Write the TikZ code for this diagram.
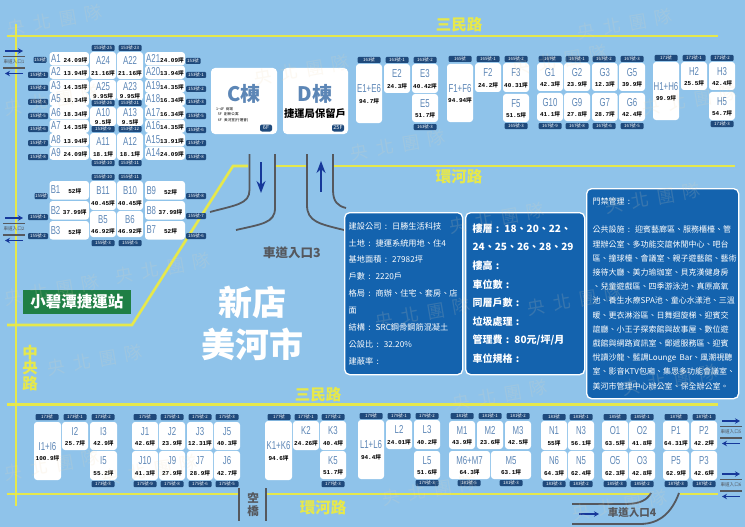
\documentclass[tikz,border=0pt]{standalone}
\usepackage{fontspec}
\setmainfont{Noto Sans CJK TC}
\newfontfamily\labfont[FakeStretch=0.68]{Liberation Sans}
\newfontfamily\numfont{Liberation Mono}
\usetikzlibrary{arrows.meta}

\definecolor{skybg}{HTML}{8FC3EA}
\definecolor{roadyl}{HTML}{E6E84C}
\definecolor{ramp}{HTML}{55585E}
\definecolor{navytag}{HTML}{1F4A7C}
\definecolor{lablue}{HTML}{5C86B6}
\definecolor{infoblue}{HTML}{1463AE}
\definecolor{arrowblue}{HTML}{16389A}
\definecolor{stagreen}{HTML}{1F7F45}
\definecolor{wmark}{HTML}{F0D8B0}

\newcommand{\areatxt}[1]{{\fontsize{6}{6}\numfont\bfseries #1}{\fontsize{5.6}{6}\selectfont\bfseries 坪}}
\newcommand{\labtxt}[1]{{\labfont\fontsize{11.5}{11.5}\selectfont\textcolor{lablue}{#1}}}

\tikzset{
	unitbox/.style={fill=white,rounded corners=3pt,inner sep=0pt,outer sep=0pt,align=center,font=\fontsize{6}{11}\selectfont},
	tagbox/.style={fill=navytag,rounded corners=1pt,text=white,inner sep=0pt,minimum width=23,minimum height=6,font=\fontsize{4.4}{5}\selectfont},
	sidetag/.style={tagbox,minimum width=20},
	road/.style={draw=roadyl,line width=2.6pt},
	rampline/.style={draw=ramp,line width=1.8pt},
	roadname/.style={text=roadyl,font=\fontsize{15.5}{15.5}\selectfont\bfseries,inner sep=0pt},
	rampname/.style={text=ramp,font=\fontsize{12.5}{13}\selectfont\bfseries,inner sep=0pt},
	smallramp/.style={text=ramp,font=\fontsize{4.6}{5}\selectfont,inner sep=0pt},
	flow/.style={draw=arrowblue,line width=1.2pt,-{Stealth[length=5pt,width=5.5pt]}},
	bigflow/.style={draw=arrowblue,line width=1.5pt,-{Stealth[length=12pt,width=9pt]}},
	gate/.style={draw=ramp,line width=1.2pt},
	infobox/.style={fill=infoblue,draw=white,line width=1.3pt,rounded corners=5pt,text=white,anchor=north west,align=left,inner sep=0pt},
	watermark/.style={text=wmark,opacity=.16,rotate=10,font=\fontsize{18}{18}\selectfont,inner sep=0pt},
}

\begin{document}
\begin{tikzpicture}[x=1pt,y=-1pt]
	\useasboundingbox (0,0) rectangle (745,527);
	\fill[skybg] (0,0) rectangle (745,527);

	%roads
	\draw[road] (7,36)--(718,36);
	\draw[road] (16,24)--(16,506);
	\draw[road] (7,325)--(132,325)--(233,166)--(248,166);
	\draw[road] (275,166)--(307,166);
	\draw[road] (333,166)--(735,166);
	\draw[road] (7,404.5)--(718,404.5);
	\draw[road] (7,494)--(238,494);
	\draw[road] (267,494)--(650,494);
	\draw[road] (680,494)--(718,494);

	%ramp 3
	\draw[rampline] (249.5,154)--(249.5,190) .. controls (249.5,204) and (236,205) .. (210,212);
	\draw[rampline] (275,154)--(275,208) .. controls (275,223) and (262,224) .. (236,230);
	\draw[rampline] (307,154)--(307,205) .. controls (307,222) and (320,224) .. (344,230);
	\draw[rampline] (333,154)--(333,190) .. controls (333,202) and (338,206) .. (346,208);
	\coordinate (dn1) at (261,162); \coordinate (dn2) at (261,193);
	\coordinate (up1) at (321,192); \coordinate (up2) at (321,161);
	\draw[bigflow] (dn1)--(dn2);
	\draw[bigflow] (up1)--(up2);
	\node[rampname] (ramp3) at (292,253) {車道入口3};

	%ramp 4
	\draw[rampline] (572,504)--(625,504) .. controls (640,504) and (647,500) .. (651,493);
	\draw[rampline] (572,524)--(640,524) .. controls (660,524) and (672,512) .. (679,493);
	\coordinate (r4a) at (579,514); \coordinate (r4b) at (599,514);
	\draw[flow] (r4a)--(r4b);
	\node[rampname,font=\fontsize{10.5}{11}\selectfont\bfseries] (ramp4) at (632,513) {車道入口4};

	%side gates
	\foreach \gx/\gy/\gtxt/\gname in {3/51/車道入口1/ga,3/218/車道入口2/gb,720/421/車道入口5/gc,720/474/車道入口6/gd}{
		\draw[flow] (\gx+2,\gy)--(\gx+20,\gy);
		\draw[gate] (\gx,\gy+5.5)--(\gx+22,\gy+5.5);
		\draw[gate] (\gx,\gy+17)--(\gx+22,\gy+17);
		\node[smallramp] (\gname) at (\gx+11,\gy+11.2) {\gtxt};
		\draw[flow] (\gx+20,\gy+22.5)--(\gx+2,\gy+22.5);
	}

	%skybridge
	\draw[rampline] (239,488)--(239,521);
	\draw[rampline] (266,488)--(266,521);
	\node[text=ramp,align=center,inner sep=0pt,font=\fontsize{11.5}{13}\selectfont\bfseries] (bridge) at (253,505) {空\\橋};

	%road names
	\node[roadname] (sanmin1) at (459,25) {三民路};
	\node[roadname] (huanhe1) at (459,177) {環河路};
	\node[roadname] (sanmin2) at (318,395) {三民路};
	\node[roadname] (huanhe2) at (323,508) {環河路};
	\node[roadname,align=center] (zhongyang) at (30,368) {中\\央\\路};

	%station and district
	\node[fill=stagreen,text=white,minimum width=108,minimum height=24,inner sep=0pt,font=\fontsize{15.5}{16}\selectfont\bfseries] (station) at (77,302) {小碧潭捷運站};
	\node[text=white,align=center,inner sep=0pt,font=\fontsize{34}{42}\selectfont\bfseries] (district) at (252,323) {新店\\美河市};

	%A rows
	\foreach \tx/\ty/\tw/\lw/\lab/\area in {
		49.5/52/39.5/12.5/A1/24.09,49.5/65.5/39.5/12.5/A2/13.94,49.5/79.5/39.5/12.5/A3/14.35,49.5/92.5/39.5/12.5/A5/18.34,
		49.5/106/39.5/12.5/A6/18.34,49.5/119.5/39.5/12.5/A7/14.35,49.5/133/39.5/12.5/A8/13.94,49.5/146.5/39.5/12.5/A9/24.09,
		145/52/40/14/A21/24.09,145/65.5/40/14/A20/13.94,145/79.5/40/14/A19/14.35,145/92.5/40/14/A18/16.34,
		145/106/40/14/A17/16.34,145/119.5/40/14/A16/14.35,145/133/40/14/A15/13.91,145/146.5/40/14/A14/24.09}{
		\node[unitbox,minimum width=\tw,minimum height=13.2] (\lab) at (\tx+\tw/2,\ty+6.7) {\makebox[\lw pt][l]{\labtxt{\lab}}\areatxt{\area}};
	}

	%B rows
	\foreach \tx/\ty/\tw/\lab/\area in {
		49.5/181/39.5/B1/52,49.5/201/39.5/B2/37.99,49.5/221/39.5/B3/52,
		145/181/40/B9/52,145/201/40/B8/37.99,145/221/40/B7/52}{
		\node[unitbox,minimum width=\tw,minimum height=18.6] (\lab) at (\tx+\tw/2,\ty+9.3) {\makebox[11pt][l]{\labtxt{\lab}}\makebox[26pt][c]{\areatxt{\area}}};
	}

	%short cells
	\foreach \tx/\ty/\th/\lab/\area in {90/80/20.5/A25/9.95,117/80/20.5/A23/9.95,90/107/19/A10/9.5,117/107/19/A13/9.5}{
		\node[unitbox,minimum width=26,minimum height=\th] (\lab) at (\tx+13,\ty+\th/2) {\labtxt{\lab}\\[-3pt]\areatxt{\area}};
	}

	%stacked cells: left, top, width, height, label, area
	\foreach \tx/\ty/\tw/\th/\lab/\area in {
		90/52/26/27/A24/21.16,117/52/26/27/A22/21.16,
		90/133/26/27/A11/18.1,117/133/26/27/A12/18.1,
		90/181/26/29/B11/40.45,117/181/26/29/B10/40.45,90/211/26/26/B5/46.92,117/211/26/26/B6/46.92,
		356/64/26/59/E1+E6/94.7,384/64/26/29/E2/24.3,412/64/26/29/E3/40.42,412/94/26/28/E5/51.7,
		447/64/26/58/F1+F6/94.94,475/63/26/29/F2/24.2,503/63/26/29/F3/40.31,503/94/26/28/F5/51.5,
		537/63/26/28/G1/42.3,564/63/26/28/G2/23.9,592/63/25.5/28/G3/12.3,619/63/26/28/G5/39.9,
		537/93/26/28/G10/41.1,564/93/26/28/G9/27.8,592/93/25.5/28/G7/28.7,619/93/26/28/G6/42.4,
		653/62/26/58/H1+H6/99.9,681/62/26/28/H2/25.5,709/62/26/28/H3/42.4,709/92/26/28/H5/54.7,
		34/422/27/58/I1+I6/100.9,62/422/26/28/I2/25.7,90/422/27/28/I3/42.9,90/451/27/29/I5/55.2,
		132/422/26/28/J1/42.6,159/422/26/28/J2/23.9,187/422/26/28/J3/12.31,214/422/26/28/J5/40.3,
		132/451/26/29/J10/41.3,159/451/26/29/J9/27.9,187/451/26/29/J7/28.9,214/451/26/29/J6/42.7,
		265/421/27/59/K1+K6/94.6,293/421/26/29/K2/24.26,320/421/26/29/K3/40.4,320/451/26/28/K5/51.7,
		358/420/26/59/L1+L6/94.4,386/420/26/29/L2/24.01,414/420/26/29/L3/40.2,414/451/26/28/L5/51.6,
		449/421/26/28/M1/43.9,477/421/26/28/M2/23.6,505/421/26/28/M3/42.5,449/451/41/28/M6+M7/64.3,491/451/40/28/M5/63.1,
		541/421/26/29/N1/55,568/421/26/29/N3/56.1,541/451/26/29/N6/64.3,568/451/26/29/N5/62.4,
		602/421/26/29/O1/63.5,629/421/26/29/O2/41.8,602/451/26/29/O5/62.3,629/451/26/29/O3/42.8,
		663/421/26/29/P1/64.31,691/421/26/29/P2/42.2,663/451/26/29/P5/62.9,691/451/26/29/P3/42.6}{
		\node[unitbox,minimum width=\tw,minimum height=\th] (\lab) at (\tx+\tw/2,\ty+\th/2) {\rule{0pt}{10pt}\labtxt{\lab}\\[-.5pt]\areatxt{\area}};
	}

	%side tags
	\foreach \tx/\ty/\tw/\tname [count=\i] in {
		40/60/13/153號,38/75/20/153號-1,38/88/20/153號-2,38/102/20/153號-3,38/116/20/153號-5,38/129/20/153號-6,38/143/20/153號-7,38/157/20/153號-8,
		193/61/15/153號,196/75/20/153號-1,196/89/20/153號-2,196/102/20/153號-3,196/116/20/153號-5,196/130/20/153號-6,196/143/20/153號-7,196/157/20/153號-8,
		41/196/13/155號,38/217/20/155號-1,38/236/20/155號-2,196/196/20/155號-8,196/216/20/155號-7,196/236/20/155號-6}{
		\node[sidetag,minimum width=\tw] (side\i) at (\tx,\ty) {\tname};
	}

	%row tags
	\foreach \tx/\ty/\tname [count=\i] in {
		103/48/153號-25,130/48/153號-23,103/103/153號-26,130/103/153號-21,103/129/153號-9,130/129/153號-12,103/163/153號-10,130/163/153號-11,
		103/177/155號-10,130/177/155號-11,103/243/155號-3,130/243/155號-5,
		369/60/163號,397/60/163號-1,425/60/163號-2,425/127/163號-3,
		460/59/165號,488/59/165號-1,516/59/165號-2,516/126/165號-3,
		550/59/167號,577/59/167號-1,604/59/167號-2,632/59/167號-3,550/126/167號-9,577/126/167號-8,604/126/167號-6,632/126/167號-5,
		666/58/171號,694/58/171號-1,722/58/171號-2,722/124/171號-3,
		47/417/173號,75/417/173號-1,103/417/173號-2,103/484/173號-3,
		145/417/175號,172/417/175號-1,200/417/175號-2,227/417/175號-3,145/484/175號-9,172/484/175號-8,200/484/175號-6,227/484/175號-5,
		279/417/177號,306/417/177號-1,333/417/177號-2,333/484/177號-3,
		371/416/179號,399/416/179號-1,427/416/179號-2,427/483/179號-3,
		462/416/181號,490/416/181號-1,518/416/181號-2,469/483/181號-5,511/483/181號-3,
		554/417/183號,581/417/183號-1,554/484/183號-3,581/484/183號-2,
		615/417/185號,642/417/185號-1,615/484/185號-3,642/484/185號-2,
		676/417/187號,704/417/187號-1,676/484/187號-3,704/484/187號-2}{
		\node[tagbox] (row\i) at (\tx,\ty) {\tname};
	}

	%towers
	\node[unitbox,minimum width=66,minimum height=66,rounded corners=4pt] (towerC) at (244,101) {};
	\node[unitbox,minimum width=65,minimum height=66,rounded corners=4pt] (towerD) at (315.5,101) {};
	\node[text=lablue,inner sep=0pt,font=\fontsize{20}{22}\selectfont\bfseries] (nameC) at (244,94) {C棟};
	\node[text=lablue,inner sep=0pt,font=\fontsize{20}{22}\selectfont\bfseries] (nameD) at (315,94) {D棟};
	\node[anchor=west,inner sep=0pt,align=left,font=\fontsize{3.6}{5.5}\selectfont] (floorsC) at (216,114.5) {1\textasciitilde4F\ \ 商場\\\ \ 5F\ \ \ 創新公寓\\\ \ 6F\ \ \ 美河堂(行運會)};
	\node[inner sep=0pt,font=\fontsize{10.3}{11}\selectfont\bfseries] (noteD) at (315,114) {捷運局保留戶};
	\node[tagbox,minimum width=12,minimum height=7,rounded corners=2pt,font=\fontsize{5.5}{6}\selectfont] (tagC) at (266,128) {6F};
	\node[tagbox,minimum width=12,minimum height=7,rounded corners=2pt,font=\fontsize{5.5}{6}\selectfont] (tagD) at (338,128) {25F};

	%info panels
	\node[infobox,minimum width=118,minimum height=162,text width=116] (infoA) at (344,212) {\hspace*{3pt}\parbox{113pt}{\fontsize{8.2}{16.9}\selectfont
		建設公司 : 日勝生活科技\\
		土地 : 捷運系統用地、住4\\
		基地面積 : 27982坪\\
		戶數 : 2220戶\\
		格局 : 商辦、住宅、套房、店\\
		面\\
		結構 : SRC鋼骨鋼筋混凝土\\
		公設比 : 32.20\%\\
		建蔽率 :}};
	\node[infobox,minimum width=119,minimum height=162,text width=112] (infoB) at (465,212) {\hspace*{3.5pt}\parbox{108pt}{\fontsize{10}{18.6}\selectfont\bfseries
		樓層 : 18、20、22、\\
		24、25、26、28、29\\
		樓高 :\\
		車位數 :\\
		同層戶數 :\\
		垃圾處理 :\\
		管理費 : 80元/坪/月\\
		車位規格 :}};
	\node[infobox,minimum width=152,minimum height=210,text width=150] (infoC) at (586,188) {\hspace*{5pt}\parbox{145pt}{\fontsize{8}{14.2}\selectfont
		門禁管理 :\\[14.2pt]
		公共設施 : 迎賓藝廊區、服務櫃檯、管\\
		理辦公室、多功能交誼休閒中心、吧台\\
		區、撞球檯、會議室、親子遊藝館、藝術\\
		接待大廳、美力瑜珈室、貝克漢健身房\\
		、兒童遊戲區、四季游泳池、真原高氧\\
		池、養生水療SPA池、童心水漾池、三溫\\
		暖、更衣淋浴區、日舞迴旋梯、迎賓交\\
		誼廳、小王子探索館與故事屋、數位遊\\
		戲館與網路資訊室、郵遞服務區、迎賓\\
		悅讀沙龍、藍調Lounge Bar、風潮視聽\\
		室、影音KTV包廂、集思多功能會議室、\\
		美河市管理中心辦公室、保全辦公室。}};

	%watermark
	\foreach \tx/\ty [count=\i] in {55/20,52/100,302/70,398/145,625/24,690/100,163/268,52/290,653/198,423/313,497/218,575/300,95/360,52/465,500/395,430/490,620/505,670/380,150/470,560/60}{
		\node[watermark] (mark\i) at (\tx,\ty) {央\hspace{8pt}北\hspace{8pt}團\hspace{8pt}隊};
	}
\end{tikzpicture}
\end{document}
